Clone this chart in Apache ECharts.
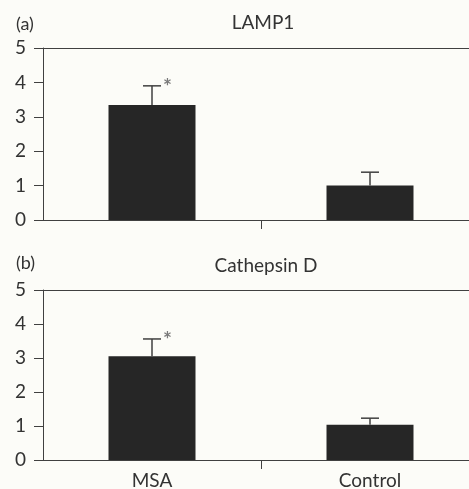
<!DOCTYPE html>
<html><head><meta charset="utf-8">
<script src="https://cdn.jsdelivr.net/npm/echarts@6/dist/echarts.min.js"></script>
<style>html,body{margin:0;padding:0;background:#fcfcf8}#c{width:469px;height:489px}</style>
</head><body><div id="c"></div>
<script>
const categories = ['MSA', 'Control'];
const lampValues = [3.34, 1.0];
const lampErrors = [0.56, 0.39];
const cathValues = [3.05, 1.04];
const cathErrors = [0.51, 0.19];
const lampSig = ['*', ''];
const cathSig = ['*', ''];
const yTicks = [0, 1, 2, 3, 4, 5];

const FONT = 'Lato';
const FS = 19;
const LINE = '#404040';
const TXT = '#333';
const chart = echarts.init(document.getElementById('c'));

function errSeries(idx, vals, errs, sig) {
  return {
    type: 'custom', xAxisIndex: idx, yAxisIndex: idx, z: 5,
    data: vals.map((v, i) => [i, v, v + errs[i], sig[i]]),
    renderItem: function (params, api) {
      const base = api.coord([api.value(0), api.value(1)]);
      const top = api.coord([api.value(0), api.value(2)]);
      const s = api.value(3);
      const children = [
        {type: 'line', shape: {x1: base[0], y1: base[1], x2: top[0], y2: top[1]}, style: {stroke: LINE, lineWidth: 1.5}},
        {type: 'line', shape: {x1: top[0] - 9, y1: top[1], x2: top[0] + 9, y2: top[1]}, style: {stroke: LINE, lineWidth: 1.5}}
      ];
      if (s) children.push({type: 'text', style: {text: s, x: top[0] + 11, y: top[1] - 9, fill: '#7a7a7a', font: 'bold 21px ' + FONT}});
      return {type: 'group', children: children};
    }
  };
}

const yAxisCommon = {
  type: 'value', min: 0, max: 5, interval: 1,
  axisLine: {show: true, lineStyle: {color: LINE, width: 1}},
  axisTick: {show: true, length: 9, lineStyle: {color: LINE}},
  axisLabel: {color: TXT, fontFamily: FONT, fontSize: FS, margin: 17, formatter: v => yTicks.includes(v) ? String(v) : ''},
  splitLine: {show: false}
};
const xAxisCommon = {
  type: 'category', data: categories,
  axisLine: {show: true, lineStyle: {color: LINE, width: 1.2}},
  axisTick: {show: false},
  axisLabel: {color: TXT, fontFamily: FONT, fontSize: FS, margin: 11}
};
const topAxis = {
  type: 'category', data: categories, position: 'top',
  axisLine: {show: true, lineStyle: {color: LINE, width: 1.2}},
  axisTick: {show: false}, axisLabel: {show: false}
};
// helper axis: only the tick between the two categories
const dividerAxis = {
  type: 'value', min: 0, max: categories.length, position: 'bottom',
  axisLine: {show: false},
  axisTick: {show: true, length: 9, customValues: [1], lineStyle: {color: LINE}},
  axisLabel: {show: false}, splitLine: {show: false}
};
const titleStyle = {fontFamily: FONT, fontSize: FS, fontWeight: 'normal', color: TXT};

chart.setOption({
  backgroundColor: '#fcfcf8',
  animation: false,
  title: [
    {text: '(a)', left: 11, top: 10, textStyle: Object.assign({}, titleStyle, {fontSize: 18})},
    {text: 'LAMP1', left: 258, top: 8, textAlign: 'center', textStyle: titleStyle},
    {text: '(b)', left: 11, top: 249, textStyle: Object.assign({}, titleStyle, {fontSize: 18})},
    {text: 'Cathepsin D', left: 261, top: 251, textAlign: 'center', textStyle: titleStyle}
  ],
  grid: [
    {left: 43, width: 436, top: 48, height: 172, outerBoundsMode: 'none', containLabel: false},
    {left: 43, width: 436, top: 290, height: 170, outerBoundsMode: 'none', containLabel: false}
  ],
  xAxis: [
    Object.assign({}, xAxisCommon, {gridIndex: 0, axisLabel: {show: false}}),
    Object.assign({}, xAxisCommon, {gridIndex: 1}),
    Object.assign({}, topAxis, {gridIndex: 0}),
    Object.assign({}, topAxis, {gridIndex: 1}),
    Object.assign({}, dividerAxis, {gridIndex: 0}),
    Object.assign({}, dividerAxis, {gridIndex: 1})
  ],
  yAxis: [
    Object.assign({}, yAxisCommon, {gridIndex: 0}),
    Object.assign({}, yAxisCommon, {gridIndex: 1})
  ],
  series: [
    {type: 'bar', xAxisIndex: 0, yAxisIndex: 0, data: lampValues, barWidth: 87, itemStyle: {color: '#262626'}},
    errSeries(0, lampValues, lampErrors, lampSig),
    {type: 'bar', xAxisIndex: 1, yAxisIndex: 1, data: cathValues, barWidth: 87, itemStyle: {color: '#262626'}},
    errSeries(1, cathValues, cathErrors, cathSig)
  ]
});
</script></body></html>
